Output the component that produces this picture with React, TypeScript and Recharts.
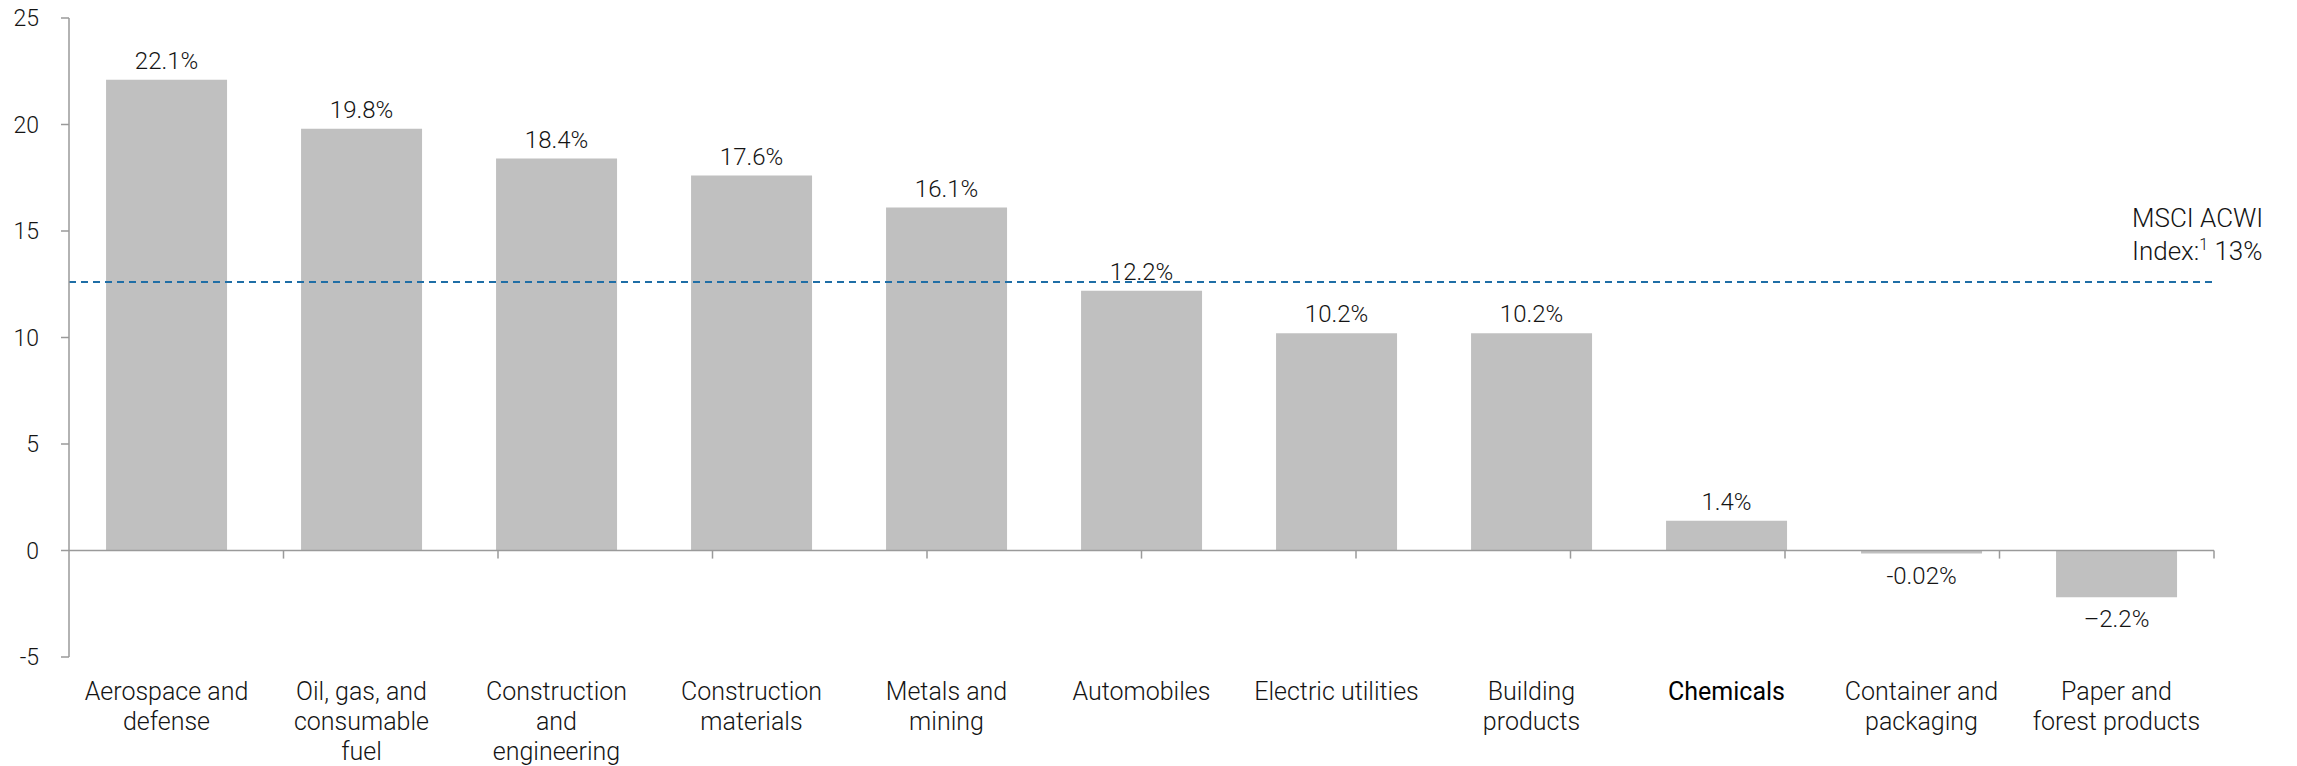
import React from "react";
import {
  Bar,
  BarChart,
  LabelList,
  ReferenceLine,
  XAxis,
  YAxis,
} from "recharts";

// sectors, sorted by return
const categories = [
  "Aerospace and\ndefense",
  "Oil, gas, and\nconsumable\nfuel",
  "Construction\nand\nengineering",
  "Construction\nmaterials",
  "Metals and\nmining",
  "Automobiles",
  "Electric utilities",
  "Building\nproducts",
  "Chemicals",
  "Container and\npackaging",
  "Paper and\nforest products",
];

const returns = [22.1, 19.8, 18.4, 17.6, 16.1, 12.2, 10.2, 10.2, 1.4, -0.02, -2.2];

const valueLabels = [
  "22.1%",
  "19.8%",
  "18.4%",
  "17.6%",
  "16.1%",
  "12.2%",
  "10.2%",
  "10.2%",
  "1.4%",
  "-0.02%",
  "\u20132.2%",
];

const yTicks = [-5, 0, 5, 10, 15, 20, 25];
const boundaries = [1, 2, 3, 4, 5, 6, 7, 8, 9, 10, 11];

const msciAcwi = 12.6;

const FONT = "Roboto, 'Liberation Sans', sans-serif";
const AXIS = "#9a9a9a";
const TEXT = "#141414";

const data = categories.map((name, i) => ({
  name,
  value: returns[i],
  label: valueLabels[i],
}));

function CategoryTick(props: any) {
  const { x, y, payload } = props;
  const lines = String(payload.value).split("\n");
  const bold = payload.value === "Chemicals";

  return (
    <text
      x={x}
      y={y + 43}
      textAnchor="middle"
      fontFamily={FONT}
      fontSize={25}
      fontWeight={bold ? 400 : 300}
      fill={bold ? "#000" : TEXT}
    >
      {lines.map((line, i) => (
        <tspan key={i} x={x} dy={i === 0 ? 0 : 30}>
          {line}
        </tspan>
      ))}
    </text>
  );
}

function ValueLabel(props: any) {
  const box = props.viewBox ?? props;
  const { x, y, width, height } = box;
  const index = props.index;
  const top = Math.min(y, y + height);
  const bottom = Math.max(y, y + height);
  const ty = returns[index] >= 0 ? top - 11 : bottom + 30;

  return (
    <text
      x={x + width / 2}
      y={ty}
      textAnchor="middle"
      fontFamily={FONT}
      fontSize={24}
      fontWeight={300}
      fill={TEXT}
    >
      {valueLabels[index]}
    </text>
  );
}

function MsciLabel(props: any) {
  const { x, y, width } = props.viewBox;
  const left = x + width - 82;

  return (
    <text fontFamily={FONT} fontSize={26} fontWeight={300} fill={TEXT}>
      <tspan x={left} y={y - 55}>
        MSCI ACWI
      </tspan>
      <tspan x={left} y={y - 22}>
        Index:
      </tspan>
      <tspan fontSize={16} dy={-10}>
        1
      </tspan>
      <tspan dy={10}> 13%</tspan>
    </text>
  );
}

export default function App() {
  return (
    <div style={{ position: "absolute", left: 0, top: 0, background: "#fff" }}>
      <BarChart
        width={2297}
        height={766}
        data={data}
        margin={{ top: 18, right: 83, left: 0, bottom: 0 }}
        barCategoryGap="19%"
      >
        <XAxis
          dataKey="name"
          height={109}
          axisLine={false}
          tickLine={false}
          tickSize={0}
          tickMargin={0}
          interval={0}
          tick={(p: any) => <CategoryTick {...p} />}
        />
        <XAxis
          xAxisId="edges"
          type="number"
          domain={[0, 11]}
          allowDataOverflow
          hide
        />
        <YAxis
          width={69}
          domain={[-5, 25]}
          ticks={yTicks}
          interval={0}
          allowDataOverflow
          axisLine={{ stroke: AXIS, strokeWidth: 1.5 }}
          tickLine={{ stroke: AXIS, strokeWidth: 1.5 }}
          tickSize={8}
          tickMargin={22}
          tick={{ fill: TEXT, fontSize: 23, fontFamily: FONT, fontWeight: 300 }}
        />

        <Bar
          dataKey="value"
          fill="#c0c0c0"
          minPointSize={3}
          isAnimationActive={false}
        >
          <LabelList dataKey="label" content={(p: any) => <ValueLabel {...p} />} />
        </Bar>

        <ReferenceLine y={0} stroke={AXIS} strokeWidth={1.5} />
        {boundaries.map((b) => (
          <ReferenceLine
            key={b}
            xAxisId="edges"
            segment={[
              { x: b, y: 0 },
              { x: b, y: -0.38 },
            ]}
            stroke={AXIS}
            strokeWidth={1.5}
          />
        ))}

        <ReferenceLine
          y={msciAcwi}
          stroke="#1f6ea6"
          strokeWidth={2}
          strokeDasharray="7 5"
          label={(p: any) => <MsciLabel {...p} />}
        />
      </BarChart>
    </div>
  );
}
